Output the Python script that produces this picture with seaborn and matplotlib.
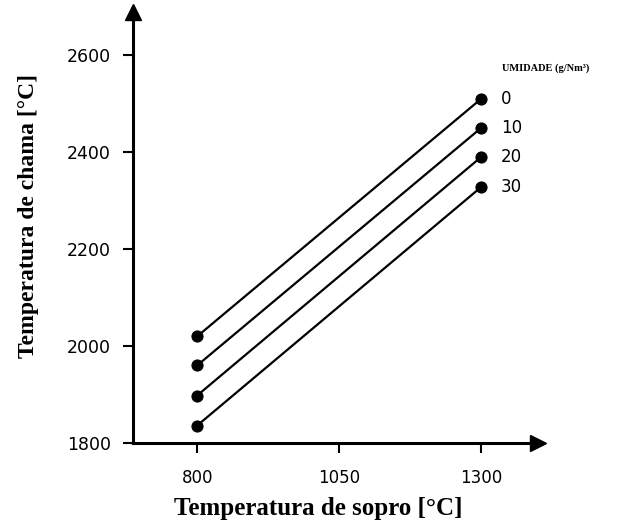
import matplotlib
matplotlib.use("Agg")
import matplotlib.pyplot as plt
import seaborn as sns
import pandas as pd

# Data
blast_temp = [800, 1300]
humidity = ["0", "10", "20", "30"]
flame_0 = [2020, 2510]
flame_10 = [1960, 2450]
flame_20 = [1898, 2390]
flame_30 = [1836, 2328]
x_ticks = [800, 1050, 1300]
y_ticks = [1800, 2000, 2200, 2400, 2600]
y_tick_labels = ["1800", "2000", "2200", "2400", "2600"]

series = [flame_0, flame_10, flame_20, flame_30]
rows = []
for h, vals in zip(humidity, series):
    for x, y in zip(blast_temp, vals):
        rows.append({"sopro": x, "chama": y, "umidade": h})
df = pd.DataFrame(rows)

sns.set_theme(style="white")
plt.rcParams['font.family'] = ['DejaVu Sans']
plt.rcParams['text.color'] = 'black'
plt.rcParams['axes.labelcolor'] = 'black'

fig = plt.figure(figsize=(6.29, 5.22), dpi=100)
ax = fig.add_axes([0.2114, 0.1513, 0.8553 - 0.2114, 0.977 - 0.1513])

sns.lineplot(data=df, x="sopro", y="chama", hue="umidade", units="umidade",
             estimator=None, palette=["black"] * 4, marker="o", markersize=8,
             markeredgecolor="black", linewidth=1.6, legend=False, ax=ax)

ax.set_xlim(687, 1400)
ax.set_ylim(1800, 2689)

for s in ["top", "right"]:
    ax.spines[s].set_visible(False)
for s in ["left", "bottom"]:
    ax.spines[s].set_linewidth(2.2)
    ax.spines[s].set_color("black")

# arrow heads
ax.plot(1, 0, marker=">", color="black", markersize=11, transform=ax.transAxes, clip_on=False)
ax.plot(0, 1, marker="^", color="black", markersize=11, transform=ax.transAxes, clip_on=False)

ax.set_xticks(x_ticks)
ax.set_xticklabels([str(t) for t in x_ticks], fontsize=12)
ax.set_yticks(y_ticks)
ax.set_yticklabels(y_tick_labels, fontsize=12.5)
ax.tick_params(axis="both", direction="out", length=7, width=1.5, color="black",
               left=True, bottom=True, labelcolor="black")
ax.tick_params(axis="x", pad=12)
ax.tick_params(axis="y", pad=9)

ax.set_xlabel("Temperatura de sopro [°C]", fontsize=18, fontweight="bold",
              family="Liberation Serif", color="black")
ax.set_ylabel("Temperatura de chama [°C]", fontsize=17, fontweight="bold",
              family="Liberation Serif", color="black")
ax.xaxis.set_label_coords(0.457, -0.126)
ax.yaxis.set_label_coords(-0.232, 0.527)

for h, vals in zip(humidity, series):
    ax.text(1335, vals[-1], h, fontsize=12, va="center", ha="left", color="black")

ax.text(1337, 2573, "UMIDADE (g/Nm³)", fontsize=7.5, fontweight="bold",
        family="Liberation Serif", va="center", ha="left", color="black")

fig.savefig("out.png", dpi=100)
